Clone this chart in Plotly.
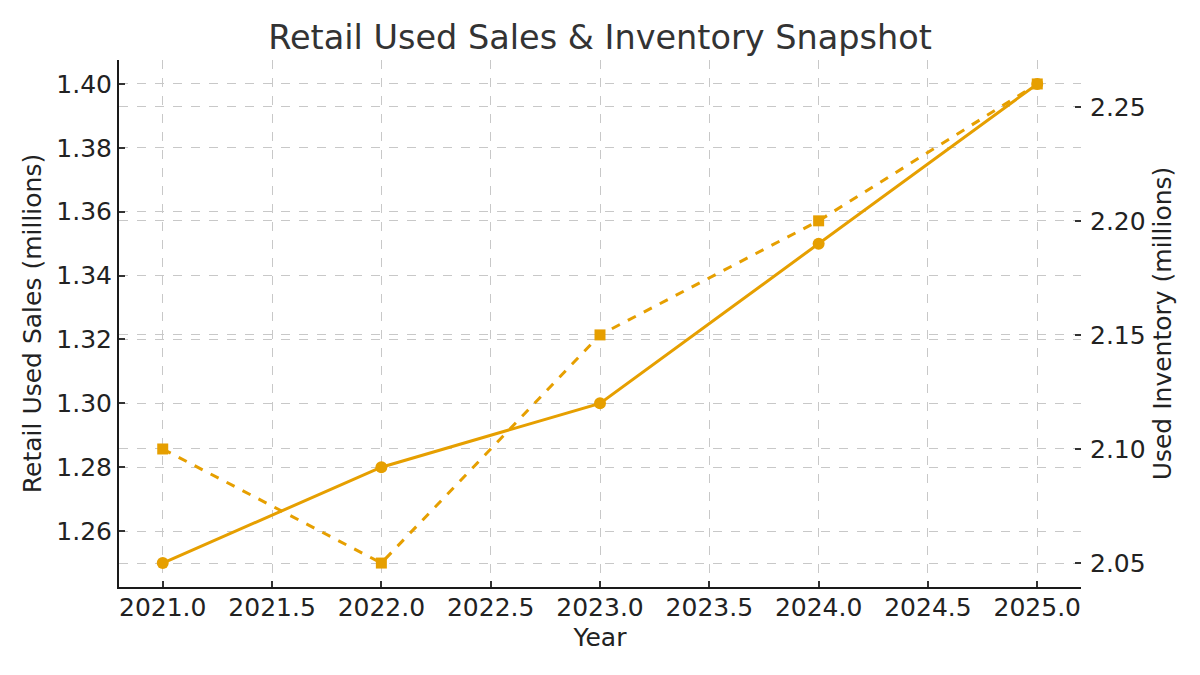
import plotly.graph_objects as go

years = [2021, 2022, 2023, 2024, 2025]
retail_sales = [1.25, 1.28, 1.30, 1.35, 1.40]
used_inventory = [2.10, 2.05, 2.15, 2.20, 2.26]
x_ticks = [2021.0, 2021.5, 2022.0, 2022.5, 2023.0, 2023.5, 2024.0, 2024.5, 2025.0]
left_ticks = [1.26, 1.28, 1.30, 1.32, 1.34, 1.36, 1.38, 1.40]
right_ticks = [2.05, 2.10, 2.15, 2.20, 2.25]

ORANGE = "#E69F00"
GRID = "#c8c8c8"
FONT = "DejaVu Sans"
TXT = "#222222"
FS = 25

# page body has an 8px default margin; size the figure to fill the remaining window
W, H = 1192, 667

fig = go.Figure()
fig.add_trace(go.Scatter(
    x=years, y=retail_sales, mode="lines+markers", name="Retail Used Sales",
    line=dict(color=ORANGE, width=3),
    marker=dict(symbol="circle", size=12, color=ORANGE),
    yaxis="y", showlegend=False,
))
fig.add_trace(go.Scatter(
    x=years, y=used_inventory, mode="lines+markers", name="Used Inventory",
    line=dict(color=ORANGE, width=3, dash="dash"),
    marker=dict(symbol="square", size=11, color=ORANGE),
    yaxis="y2", showlegend=False,
))

fig.update_layout(
    width=W, height=H,
    paper_bgcolor="white", plot_bgcolor="white",
    margin=dict(l=111, r=119, t=52, b=88, autoexpand=False),
    font=dict(family=FONT, size=FS, color=TXT),
    title=dict(text="Retail Used Sales & Inventory Snapshot", x=(600 - 8) / W, xanchor="center",
               y=1 - 29 / H, yanchor="middle",
               font=dict(family=FONT, size=33.5, color="#333333")),
    xaxis=dict(
        range=[2020.8, 2025.2], tickvals=x_ticks,
        ticktext=[f"{v:.1f}" for v in x_ticks],
        showgrid=True, gridcolor=GRID, griddash="dash", gridwidth=1,
        showline=True, linecolor="#1a1a1a", linewidth=2,
        ticks="inside", ticklen=6, tickwidth=1.5, tickcolor="#333333",
        ticklabelstandoff=-3,
        zeroline=False, automargin=False,
        title=dict(text="Year", font=dict(size=FS, color=TXT), standoff=7),
        tickfont=dict(size=FS, color=TXT),
    ),
    yaxis=dict(
        range=[1.2425, 1.4075], tickvals=left_ticks,
        ticktext=[f"{v:.2f}" for v in left_ticks],
        showgrid=True, gridcolor=GRID, griddash="dash", gridwidth=1,
        showline=True, linecolor="#1a1a1a", linewidth=2,
        ticks="inside", ticklen=6, tickwidth=1.5, tickcolor="#333333",
        zeroline=False, automargin=False,
        title=dict(text="Retail Used Sales (millions)", font=dict(size=FS, color=TXT), standoff=8),
        tickfont=dict(size=FS, color=TXT),
    ),
    yaxis2=dict(
        range=[2.0395, 2.2705], tickvals=right_ticks,
        ticktext=[f"{v:.2f}" for v in right_ticks],
        overlaying="y", side="right",
        showgrid=True, gridcolor=GRID, griddash="dash", gridwidth=1,
        showline=False,
        ticks="inside", ticklen=6, tickwidth=1.5, tickcolor="#333333",
        ticklabelstandoff=8,
        zeroline=False, automargin=False,
        title=dict(text="Used Inventory (millions)", font=dict(size=FS, color=TXT), standoff=8),
        tickfont=dict(size=FS, color=TXT),
    ),
)

fig.write_html("out.html")
